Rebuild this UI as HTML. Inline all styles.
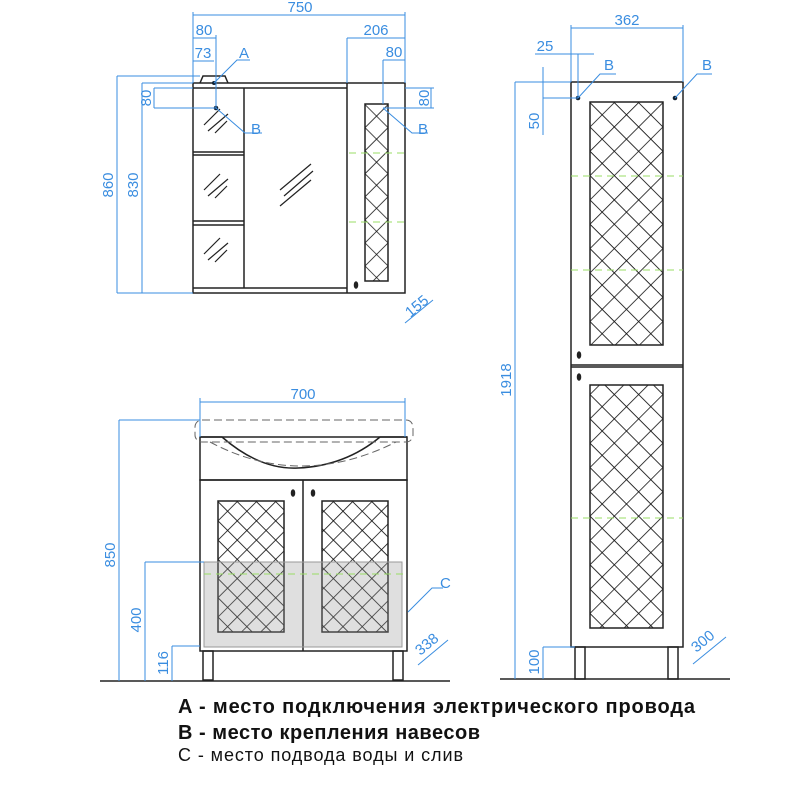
<!DOCTYPE html>
<html><head><meta charset="utf-8"><style>body{margin:0;background:#fff}svg{display:block}</style></head><body>
<svg width="800" height="800" viewBox="0 0 800 800" xmlns="http://www.w3.org/2000/svg" font-family="Liberation Sans, sans-serif">
<defs>
<pattern id="latm" x="365" y="104" width="16.3" height="16.3" patternUnits="userSpaceOnUse" patternTransform="rotate(45 365 104)">
<path d="M0 0H16.3M0 0V16.3" stroke="#111" stroke-width="1.6" fill="none"/>
</pattern>
<pattern id="lat" x="218" y="501" width="13.6" height="13.6" patternUnits="userSpaceOnUse" patternTransform="rotate(45 218 501)">
<path d="M0 0H13.6M0 0V13.6" stroke="#111" stroke-width="1.6" fill="none"/>
</pattern>
<pattern id="lat2" x="590" y="102" width="17.2" height="17.2" patternUnits="userSpaceOnUse" patternTransform="rotate(45 590 102)">
<path d="M0 0H17.2M0 0V17.2" stroke="#111" stroke-width="1.6" fill="none"/>
</pattern>
</defs>
<g stroke="#222" fill="none" stroke-width="1.5">
<rect x="193" y="83" width="212" height="210"/>
<line x1="193" y1="88" x2="347" y2="88"/>
<line x1="193" y1="288" x2="347" y2="288"/>
<line x1="244" y1="88" x2="244" y2="288"/>
<line x1="347" y1="83" x2="347" y2="293"/>
<line x1="193" y1="152" x2="244" y2="152"/><line x1="193" y1="155" x2="244" y2="155"/>
<line x1="193" y1="221" x2="244" y2="221"/><line x1="193" y1="225" x2="244" y2="225"/>
<path d="M200 83 L203 76 L225 76 L228 83"/>
<rect x="365" y="104" width="23" height="177" fill="url(#latm)"/>
<ellipse cx="356" cy="285" rx="1.5" ry="3" fill="#222"/>
<g stroke-width="1.2">
<path d="M204 125 L220 109 M208 131 L228 114 M215 133 L227 121"/>
<path d="M204 190 L220 174 M208 196 L228 179 M215 198 L227 186"/>
<path d="M204 254 L220 238 M208 260 L228 243 M215 262 L227 250"/>
<path d="M280 190 L311 164 M284 196 L313 171 M280 206 L311 180"/>
</g>
<rect x="200" y="437" width="207" height="43"/>
<path d="M200 437 L222 437 Q260 470 298 468 Q345 466 380 437 L407 437" />
<rect x="200" y="480" width="207" height="171"/>
<line x1="303" y1="480" x2="303" y2="651"/>
<rect x="218" y="501" width="66" height="131" fill="url(#lat)"/>
<rect x="322" y="501" width="66" height="131" fill="url(#lat)"/>
<ellipse cx="293" cy="493" rx="1.5" ry="3" fill="#222"/>
<ellipse cx="313" cy="493" rx="1.5" ry="3" fill="#222"/>
<rect x="203" y="651" width="10" height="29"/><rect x="393" y="651" width="10" height="29"/>
<rect x="571" y="82" width="112" height="565"/>
<line x1="571" y1="365" x2="683" y2="365"/><line x1="571" y1="367" x2="683" y2="367"/>
<rect x="590" y="102" width="73" height="243" fill="url(#lat2)"/>
<rect x="590" y="385" width="73" height="243" fill="url(#lat2)"/>
<ellipse cx="579" cy="355" rx="1.5" ry="3" fill="#222"/>
<ellipse cx="579" cy="377" rx="1.5" ry="3" fill="#222"/>
<rect x="575" y="647" width="10" height="32"/><rect x="668" y="647" width="10" height="32"/>
</g>
<rect x="204" y="562" width="198" height="85" fill="rgba(150,150,150,0.3)" stroke="#999"/>
<rect x="195" y="420" width="218" height="22" rx="7" fill="none" stroke="#666" stroke-dasharray="8,4"/>
<path d="M210 442 Q300 490 396 442" fill="none" stroke="#666" stroke-dasharray="8,4"/>
<circle cx="216" cy="108" r="2.3" fill="#123"/><circle cx="578" cy="98" r="2.3" fill="#123"/><circle cx="675" cy="98" r="2.3" fill="#123"/>
<circle cx="214" cy="83" r="2" fill="#123"/>
<g stroke="#9d6" stroke-dasharray="7,5" stroke-width="1">
<line x1="349" y1="153" x2="405" y2="153"/><line x1="349" y1="222" x2="405" y2="222"/>
<line x1="204" y1="574" x2="408" y2="574"/>
<line x1="571" y1="176" x2="683" y2="176"/><line x1="571" y1="270" x2="683" y2="270"/><line x1="571" y1="518" x2="683" y2="518"/>
</g>
<line x1="100" y1="681" x2="450" y2="681" stroke="#222" stroke-width="1.5"/>
<line x1="500" y1="679" x2="730" y2="679" stroke="#222" stroke-width="1.5"/>
<g stroke="#3a8de0" stroke-width="1" fill="none">
<path d="M193 15H405M193 12V83M405 12V83"/>
<path d="M347 38H405M347 38V83M193 38H216M216 35V108M193 61H214"/>
<path d="M383 60H405M383 60V104"/>
<path d="M117 76H200M117 76V293M142 83H193M142 83V293M117 293H193"/>
<path d="M154 88H193M154 108H216M154 88V108"/>
<path d="M405 88H434M383 108H434M431 88V108"/>
<path d="M214 83L237 60H250M216 108L245 133H262M383 108L412 133H428"/>
<path d="M405 323L433 300"/>
<path d="M200 402H405M200 398V437M405 398V437"/>
<path d="M119 420H200M119 420V681M145 562H204M145 562V681M172 646H200M172 646V681"/>
<path d="M408 612L432 588H443"/>
<path d="M418 665L448 640"/>
<path d="M571 28H683M571 25V82M683 25V82"/>
<path d="M535 54H594M578 54V98M543 67V135M543 98H578M515 82H571M515 82V679"/>
<path d="M578 98L600 74H616M675 98L697 74H712"/>
<path d="M543 647H575M543 647V679"/>
<path d="M693 664L726 637"/>
</g>
<g fill="#3a8de0" font-size="15">
<text x="300" y="12" text-anchor="middle">750</text>
<text x="204" y="35" text-anchor="middle">80</text>
<text x="203" y="58" text-anchor="middle">73</text>
<text x="376" y="35" text-anchor="middle">206</text>
<text x="394" y="57" text-anchor="middle">80</text>
<text x="244" y="58" text-anchor="middle">A</text>
<text x="256" y="134" text-anchor="middle">B</text>
<text x="423" y="134" text-anchor="middle">B</text>
<text x="609" y="70" text-anchor="middle">B</text>
<text x="707" y="70" text-anchor="middle">B</text>
<text x="440" y="588">C</text>
<text x="303" y="399" text-anchor="middle">700</text>
<text x="627" y="25" text-anchor="middle">362</text>
<text x="545" y="51" text-anchor="middle">25</text>
<text transform="translate(113,185) rotate(-90)" text-anchor="middle">860</text>
<text transform="translate(138,185) rotate(-90)" text-anchor="middle">830</text>
<text transform="translate(151,98) rotate(-90)" text-anchor="middle">80</text>
<text transform="translate(429,98) rotate(-90)" text-anchor="middle">80</text>
<text transform="translate(115,555) rotate(-90)" text-anchor="middle">850</text>
<text transform="translate(141,620) rotate(-90)" text-anchor="middle">400</text>
<text transform="translate(168,663) rotate(-90)" text-anchor="middle">116</text>
<text transform="translate(539,121) rotate(-90)" text-anchor="middle">50</text>
<text transform="translate(511,380) rotate(-90)" text-anchor="middle">1918</text>
<text transform="translate(539,662) rotate(-90)" text-anchor="middle">100</text>
<text transform="translate(420,310) rotate(-40)" text-anchor="middle">155</text>
<text transform="translate(430,648) rotate(-40)" text-anchor="middle">338</text>
<text transform="translate(706,645) rotate(-40)" text-anchor="middle">300</text>
</g>
<g fill="#111">
<text x="178" y="713" font-size="20" font-weight="bold" textLength="517" lengthAdjust="spacing">A - место подключения электрического провода</text>
<text x="178" y="739" font-size="20" font-weight="bold" textLength="302" lengthAdjust="spacing">B - место крепления навесов</text>
<text x="178" y="761" font-size="18" textLength="285" lengthAdjust="spacing">C - место подвода воды и слив</text>
</g>
</svg>
</body></html>
